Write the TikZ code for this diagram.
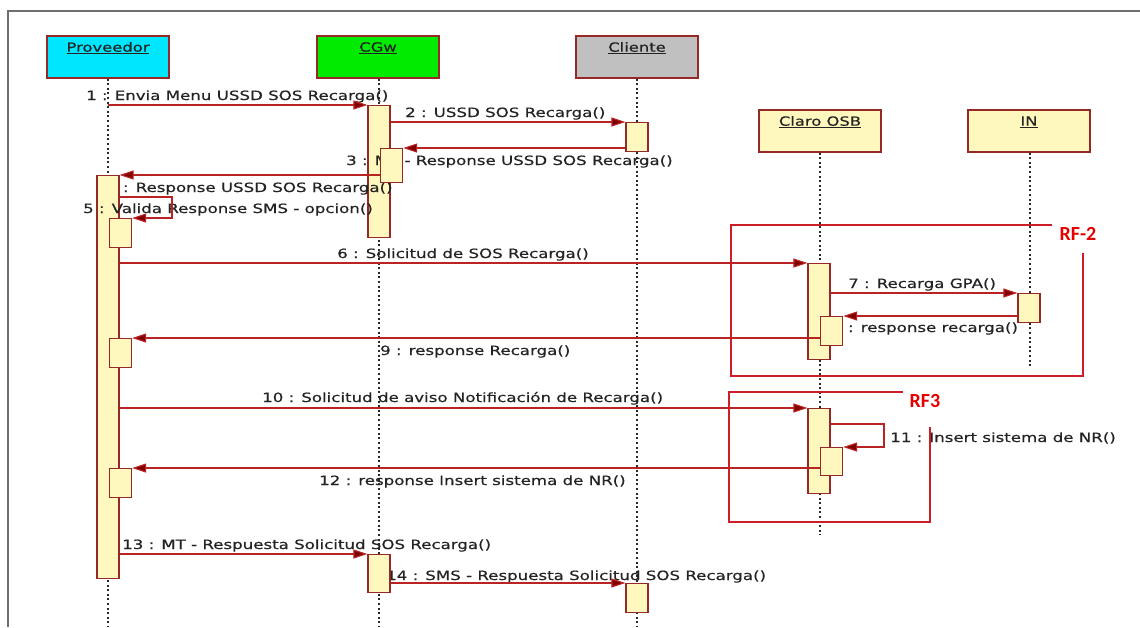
\documentclass[tikz,border=0pt]{standalone}
\usepackage{fontspec}
\setmainfont{DejaVu Sans}
\newfontfamily\lblfont[FakeStretch=1.3,FakeBold=0.4]{DejaVu Sans}
\newfontfamily\rffont{Carlito}
\usetikzlibrary{arrows.meta}
\definecolor{cyanhead}{RGB}{0,230,255}
\definecolor{greenhead}{RGB}{0,235,0}
\definecolor{grayhead}{RGB}{192,192,192}
\definecolor{barfill}{RGB}{255,248,190}
\definecolor{border}{RGB}{150,40,40}
\definecolor{msgline}{RGB}{185,35,35}
\definecolor{tipred}{RGB}{128,0,0}
\definecolor{rfred}{RGB}{205,30,40}
\definecolor{rftext}{RGB}{230,0,0}
\definecolor{txt}{RGB}{35,35,35}
\definecolor{framegray}{RGB}{110,110,110}
\definecolor{lifegray}{RGB}{40,40,40}
\tikzset{
  headbox/.style={draw=border, line width=1.2pt, minimum width=122pt, minimum height=42pt, inner sep=0pt},
  headtxt/.style={text=txt, font=\lblfont\fontsize{12.6}{14}\selectfont, inner sep=0pt},
  life/.style={draw=lifegray, line width=2.6pt, dash pattern=on 2pt off 2.6pt},
  bar/.style={draw=border, fill=barfill, line width=1.2pt, minimum width=22pt, inner sep=0pt},
  msg/.style={draw=msgline, line width=1.1pt, -{Triangle[length=14pt,width=9pt,fill=tipred]}},
  lbl/.style={text=txt, font=\lblfont\fontsize{12.8}{14}\selectfont, inner sep=0pt, anchor=base west},
  rf/.style={draw=rfred, line width=1.1pt},
  rflbl/.style={text=rftext, font=\rffont\bfseries\fontsize{20}{22}\selectfont, inner sep=0pt}
}
\begin{document}
\begin{tikzpicture}[x=1pt,y=-1pt]
\useasboundingbox (0,0) rectangle (1140,627);
\fill[white] (0,0) rectangle (1140,627);
\draw[framegray, line width=1.2pt] (1140,11) -- (8,11) -- (8,627);

% heads
\node[headbox, fill=cyanhead] (prov) at (108,57) {};
\node[headbox, fill=greenhead] (cgw) at (378,57) {};
\node[headbox, fill=grayhead] (cli) at (637,57) {};
\node[headbox, fill=barfill] (claro) at (820,131) {};
\node[headbox, fill=barfill] (inn) at (1029,131) {};
\node[headtxt] (provt) at (108,48) {\underline{Proveedor}};
\node[headtxt] (cgwt) at (378,48) {\underline{CGw}};
\node[headtxt] (clit) at (637,48) {\underline{Cliente}};
\node[headtxt] (clarot) at (820,122) {\underline{Claro OSB}};
\node[headtxt] (innt) at (1029,122) {\underline{IN}};

% lifelines
\coordinate (provend) at (108,627);
\coordinate (cgwend) at (379,627);
\coordinate (cliend) at (637,627);
\coordinate (claroend) at (820,535);
\coordinate (innend) at (1030,367);
\draw[life] (prov.south) -- (provend);
\draw[life] (cgw.south -| cgwend) -- (cgwend);
\draw[life] (cli.south) -- (cliend);
\draw[life] (claro.south) -- (claroend);
\draw[life] (inn.south -| innend) -- (innend);

% main activation bars (first group)
\node[bar, anchor=north, minimum height=132pt] (cmain) at (379,105) {};
\node[bar, anchor=north, minimum height=29pt] (cl2) at (637,122) {};
\node[bar, anchor=north, minimum height=29pt] (cl14) at (637,583) {};
\node[bar, anchor=north, minimum height=96pt] (omain1) at (819,263) {};
\node[bar, anchor=north, minimum height=85pt] (omain2) at (819,408) {};
\node[bar, anchor=north, minimum height=29pt] (in7) at (1029,293) {};

% labels partly hidden behind the bars
\node[lbl] (t4) at (107,192) {4 : Response USSD SOS Recarga()};
\node[lbl] (t14) at (386,580) {14 : SMS - Respuesta Solicitud SOS Recarga()};

% main activation bars (second group)
\node[bar, anchor=north, minimum height=403pt] (pmain) at (108,175) {};
\node[bar, anchor=north, minimum height=38pt] (c13) at (379,554) {};

% labels
\node[lbl] (t1) at (86,100) {1 : Envia Menu USSD SOS Recarga()};
\node[lbl] (t2) at (405,117) {2 : USSD SOS Recarga()};
\node[lbl] (t3) at (346,165) {3 : MT - Response USSD SOS Recarga()};
\node[lbl] (t5) at (83,213) {5 : Valida Response SMS - opcion()};
\node[lbl] (t6) at (337,258) {6 : Solicitud de SOS Recarga()};
\node[lbl] (t7) at (848,288) {7 : Recarga GPA()};
\node[lbl] (t8) at (832,332) {8 : response recarga()};
\node[lbl] (t9) at (380,355) {9 : response Recarga()};
\node[lbl] (t10) at (262,402) {10 : Solicitud de aviso Notificación de Recarga()};
\node[lbl] (t11) at (890,442) {11 : Insert sistema de NR()};
\node[lbl] (t12) at (319,485) {12 : response Insert sistema de NR()};
\node[lbl] (t13) at (122,549) {13 : MT - Respuesta Solicitud SOS Recarga()};

% nested activation bars
\node[bar, anchor=north west, minimum height=29pt] (p5) at (109,218) {};
\node[bar, anchor=north west, minimum height=29pt] (p9) at (109,338) {};
\node[bar, anchor=north west, minimum height=29pt] (p12) at (109,468) {};
\node[bar, anchor=north west, minimum height=34pt] (c3) at (380,148) {};
\node[bar, anchor=north west, minimum height=29pt] (o8) at (820,316) {};
\node[bar, anchor=north west, minimum height=28pt] (o11) at (820,447) {};

% messages
\draw[msg] (prov.south |- cmain.north) -- (cmain.north west);
\draw[msg] (cmain.east |- cl2.north) -- (cl2.north west);
\draw[msg] (cl2.west |- c3.north) -- (c3.north east);
\draw[msg] (c3.west |- pmain.north) -- (pmain.north east);
\coordinate (l5a) at (172,197);
\coordinate (l5b) at (172,218);
\draw[msg] (pmain.east |- l5a) -- (l5a) -- (l5b) -- (p5.north east);
\draw[msg] (pmain.east |- omain1.north) -- (omain1.north west);
\draw[msg] (omain1.east |- in7.north) -- (in7.north west);
\draw[msg] (in7.west |- o8.north) -- (o8.north east);
\draw[msg] (o8.west |- p9.north) -- (p9.north east);
\draw[msg] (pmain.east |- omain2.north) -- (omain2.north west);
\coordinate (l11a) at (884,424);
\coordinate (l11b) at (884,447);
\draw[msg] (omain2.east |- l11a) -- (l11a) -- (l11b) -- (o11.north east);
\draw[msg] (o11.west |- p12.north) -- (p12.north east);
\draw[msg] (pmain.east |- c13.north) -- (c13.north west);
\draw[msg] (c13.east |- cl14.north) -- (cl14.north west);

% RF frames
\coordinate (rf2a) at (1052,225);
\coordinate (rf2b) at (731,376);
\coordinate (rf2c) at (1083,253);
\draw[rf] (rf2a) -- (rf2a -| rf2b) -- (rf2b) -- (rf2b -| rf2c) -- (rf2c);
\node[rflbl] (rf2) at (1078,234) {RF-2};
\coordinate (rf3a) at (903,392);
\coordinate (rf3b) at (729,522);
\coordinate (rf3c) at (930,427);
\draw[rf] (rf3a) -- (rf3a -| rf3b) -- (rf3b) -- (rf3b -| rf3c) -- (rf3c);
\node[rflbl] (rf3) at (925,401) {RF3};
\end{tikzpicture}
\end{document}
